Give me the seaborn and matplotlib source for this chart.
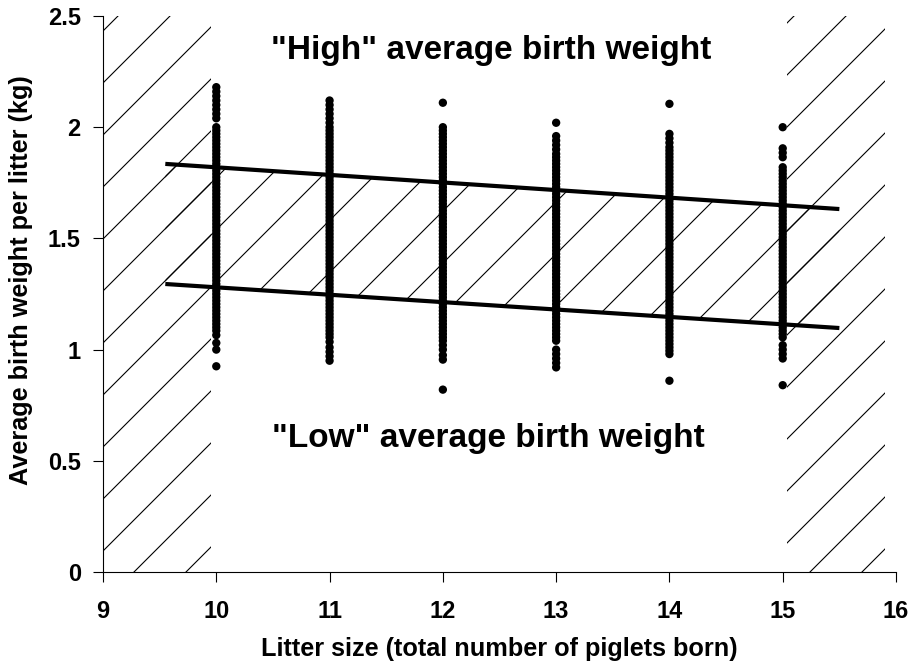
import numpy as np
import pandas as pd
import seaborn as sns
import matplotlib.pyplot as plt
from matplotlib.patches import Polygon
from matplotlib.collections import LineCollection

##  Data (average birth weight per litter, kg)
litter_sizes = [10, 11, 12, 13, 14, 15]

weights_10 = [2.18, 2.16, 2.14, 2.12, 2.10, 2.08, 2.06, 2.04,
              2.00, 1.985, 1.97, 1.955, 1.94, 1.925, 1.91, 1.895, 1.88, 1.865,
              1.85, 1.835, 1.82, 1.805, 1.79, 1.775, 1.76, 1.745, 1.73, 1.715,
              1.70, 1.685, 1.67, 1.655, 1.64, 1.625, 1.61, 1.595, 1.58, 1.565,
              1.55, 1.535, 1.52, 1.505, 1.49, 1.475, 1.46, 1.445, 1.43, 1.415,
              1.40, 1.385, 1.37, 1.355, 1.34, 1.325, 1.31, 1.295, 1.28, 1.265,
              1.25, 1.235, 1.22, 1.205, 1.19, 1.175, 1.16, 1.145, 1.13, 1.115,
              1.10, 1.085,
              1.065, 1.03, 1.00, 0.925]
weights_11 = [2.12, 2.10, 2.08, 2.06, 2.04, 2.02, 2.00,
              1.985, 1.97, 1.955, 1.94, 1.925, 1.91, 1.895, 1.88, 1.865,
              1.85, 1.835, 1.82, 1.805, 1.79, 1.775, 1.76, 1.745, 1.73, 1.715,
              1.70, 1.685, 1.67, 1.655, 1.64, 1.625, 1.61, 1.595, 1.58, 1.565,
              1.55, 1.535, 1.52, 1.505, 1.49, 1.475, 1.46, 1.445, 1.43, 1.415,
              1.40, 1.385, 1.37, 1.355, 1.34, 1.325, 1.31, 1.295, 1.28, 1.265,
              1.25, 1.235, 1.22, 1.205, 1.19, 1.175, 1.16, 1.145, 1.13, 1.115,
              1.10, 1.085, 1.07, 1.055,
              1.035, 1.01, 0.99, 0.97, 0.95]
weights_12 = [2.11,
              2.00, 1.985, 1.97, 1.955, 1.94, 1.925, 1.91, 1.895, 1.88, 1.865,
              1.85, 1.835, 1.82, 1.805, 1.79, 1.775, 1.76, 1.745, 1.73, 1.715,
              1.70, 1.685, 1.67, 1.655, 1.64, 1.625, 1.61, 1.595, 1.58, 1.565,
              1.55, 1.535, 1.52, 1.505, 1.49, 1.475, 1.46, 1.445, 1.43, 1.415,
              1.40, 1.385, 1.37, 1.355, 1.34, 1.325, 1.31, 1.295, 1.28, 1.265,
              1.25, 1.235, 1.22, 1.205, 1.19, 1.175, 1.16, 1.145, 1.13, 1.115,
              1.10, 1.085, 1.07, 1.055, 1.04,
              1.02, 1.00, 0.975, 0.955,
              0.82]
weights_13 = [2.02,
              1.96, 1.94, 1.92, 1.90, 1.88,
              1.865, 1.85, 1.835, 1.82, 1.805, 1.79, 1.775, 1.76, 1.745, 1.73,
              1.715, 1.70, 1.685, 1.67, 1.655, 1.64, 1.625, 1.61, 1.595, 1.58,
              1.565, 1.55, 1.535, 1.52, 1.505, 1.49, 1.475, 1.46, 1.445, 1.43,
              1.415, 1.40, 1.385, 1.37, 1.355, 1.34, 1.325, 1.31, 1.295, 1.28,
              1.265, 1.25, 1.235, 1.22, 1.205, 1.19, 1.175, 1.16, 1.145, 1.13,
              1.115, 1.10, 1.085, 1.07, 1.055, 1.04,
              1.00, 0.98, 0.96, 0.94, 0.92]
weights_14 = [2.105,
              1.97, 1.95, 1.93,
              1.91, 1.895, 1.88, 1.865, 1.85, 1.835, 1.82, 1.805, 1.79, 1.775,
              1.76, 1.745, 1.73, 1.715, 1.70, 1.685, 1.67, 1.655, 1.64, 1.625,
              1.61, 1.595, 1.58, 1.565, 1.55, 1.535, 1.52, 1.505, 1.49, 1.475,
              1.46, 1.445, 1.43, 1.415, 1.40, 1.385, 1.37, 1.355, 1.34, 1.325,
              1.31, 1.295, 1.28, 1.265, 1.25, 1.235, 1.22, 1.205, 1.19, 1.175,
              1.16, 1.145, 1.13, 1.115, 1.10, 1.085, 1.07, 1.055, 1.04, 1.025,
              1.01, 0.995, 0.98,
              0.86]
weights_15 = [2.00,
              1.905, 1.885, 1.865,
              1.82, 1.805, 1.79, 1.775, 1.76, 1.745, 1.73, 1.715, 1.70, 1.685,
              1.67, 1.655, 1.64, 1.625, 1.61, 1.595, 1.58, 1.565, 1.55, 1.535,
              1.52, 1.505, 1.49, 1.475, 1.46, 1.445, 1.43, 1.415, 1.40, 1.385,
              1.37, 1.355, 1.34, 1.325, 1.31, 1.295, 1.28, 1.265, 1.25, 1.235,
              1.22, 1.205, 1.19, 1.175, 1.16, 1.145, 1.13, 1.115, 1.10, 1.085,
              1.07, 1.055,
              1.02, 1.00, 0.98, 0.96,
              0.84]

#  Band limits (straight lines) and shaded zones
band_x = [9.55, 15.5]
band_upper = [1.835, 1.632]
band_lower = [1.295, 1.097]
left_zone = [9.0, 9.95]
right_zone = [15.04, 15.9]

x_ticks = [9, 10, 11, 12, 13, 14, 15, 16]
x_tick_labels = ['9', '10', '11', '12', '13', '14', '15', '16']
y_ticks = [0, 0.5, 1, 1.5, 2, 2.5]
y_tick_labels = ['0', '0.5', '1', '1.5', '2', '2.5']

#  Long-form table for seaborn
all_weights = [weights_10, weights_11, weights_12, weights_13, weights_14, weights_15]
df = pd.DataFrame({
    'litter': np.repeat(litter_sizes, [len(w) for w in all_weights]),
    'weight': np.concatenate(all_weights),
})

##  Figure
sns.set_style('ticks')
plt.rcParams['font.family'] = ['Liberation Sans', 'DejaVu Sans']
for key in ['text.color', 'axes.labelcolor', 'xtick.color', 'ytick.color', 'axes.edgecolor']:
    plt.rcParams[key] = 'black'

fig = plt.figure(figsize=(9.15, 6.64), dpi=100)
ax = fig.add_axes([103 / 915, 92 / 664, 793 / 915, 556 / 664])
ax.set_xlim(9, 16)
ax.set_ylim(0, 2.5)

#  Diagonal hatching drawn as thin lines clipped to each zone
ax_w_px = 793.0
ax_h_px = 556.0
slope = ax_w_px / ax_h_px
step = 52.0 / ax_h_px


def hatch(verts):
    poly = Polygon(verts, closed=True, fill=False, edgecolor='none',
                   transform=ax.transData)
    ax.add_patch(poly)
    segs = [[(0, c), (1, c + slope)] for c in np.arange(-slope - 0.5, 1.5, step)]
    lc = LineCollection(segs, colors='black', linewidths=0.8,
                        transform=ax.transAxes, zorder=1)
    ax.add_collection(lc, autolim=False)
    lc.set_clip_path(poly)


hatch([(left_zone[0], 0), (left_zone[1], 0), (left_zone[1], 2.5), (left_zone[0], 2.5)])
hatch([(right_zone[0], 0), (right_zone[1], 0), (right_zone[1], 2.5), (right_zone[0], 2.5)])
hatch([(band_x[0], band_lower[0]), (band_x[1], band_lower[1]),
       (band_x[1], band_upper[1]), (band_x[0], band_upper[0])])

#  Scatter of litters
sns.scatterplot(data=df, x='litter', y='weight', color='black', s=36,
                edgecolor='none', linewidth=0, legend=False, ax=ax, zorder=3)

#  Band lines
ax.plot(band_x, band_upper, color='black', lw=3, solid_capstyle='butt', zorder=4)
ax.plot(band_x, band_lower, color='black', lw=3, solid_capstyle='butt', zorder=4)

#  Zone labels
ax.text(12.43, 2.345, '"High" average birth weight', ha='center', va='center',
        fontsize=24, fontweight='bold')
ax.text(12.4, 0.60, '"Low" average birth weight', ha='center', va='center',
        fontsize=24, fontweight='bold')

#  Axes
ax.set_xlim(9, 16)
ax.set_ylim(0, 2.5)
ax.set_xticks(x_ticks)
ax.set_xticklabels(x_tick_labels, fontweight='bold', fontsize=17)
ax.set_yticks(y_ticks)
ax.set_yticklabels(y_tick_labels, fontweight='bold', fontsize=17)
ax.tick_params(axis='both', direction='out', length=7, width=0.8, color='black')
ax.tick_params(axis='x', pad=13)
ax.tick_params(axis='y', pad=9)

ax.set_xlabel('Litter size (total number of piglets born)', fontsize=18.2,
              fontweight='bold', labelpad=10)
ax.set_ylabel('Average birth weight per litter (kg)', fontsize=18.2,
              fontweight='bold')
ax.yaxis.set_label_coords(-0.088, 0.525)

sns.despine(ax=ax)
for side in ['left', 'bottom']:
    ax.spines[side].set_linewidth(0.8)
    ax.spines[side].set_color('black')

fig.savefig('out.png', dpi=100)
